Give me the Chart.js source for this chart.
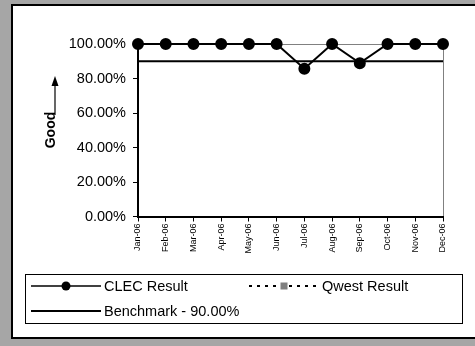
<!DOCTYPE html>
<html>
<head>
<meta charset="utf-8">
<script src="https://cdn.jsdelivr.net/npm/chart.js@4/dist/chart.umd.min.js"></script>
<style>
html,body{margin:0;padding:0;background:#a6a6a6;}
#wrap{position:relative;width:475px;height:346px;}
canvas{display:block;}
</style>
</head>
<body>
<div id="wrap"><canvas id="c" width="475" height="346"></canvas></div>
<script>
const months = ['Jan-06','Feb-06','Mar-06','Apr-06','May-06','Jun-06','Jul-06','Aug-06','Sep-06','Oct-06','Nov-06','Dec-06'];
const clecResult = [1, 1, 1, 1, 1, 1, 0.857, 1, 0.889, 1, 1, 1];
const qwestResult = [null, null, null, null, null, null, null, null, null, null, null, null];
const benchmark = [0.9, 0.9, 0.9, 0.9, 0.9, 0.9, 0.9, 0.9, 0.9, 0.9, 0.9, 0.9];
const yTicks = [0, 0.2, 0.4, 0.6, 0.8, 1.0];
const FONT = '"Liberation Sans", Arial, sans-serif';

const panelPlugin = {
  id: 'panel',
  beforeDraw(chart) {
    const ctx = chart.ctx;
    ctx.save();
    ctx.fillStyle = '#a6a6a6';
    ctx.fillRect(0, 0, 475, 346);
    ctx.fillStyle = '#ffffff';
    ctx.fillRect(11, 4, 470, 335);
    ctx.strokeStyle = '#000000';
    ctx.lineWidth = 2;
    ctx.beginPath();
    ctx.moveTo(480, 5);
    ctx.lineTo(12, 5);
    ctx.lineTo(12, 338);
    ctx.lineTo(480, 338);
    ctx.stroke();
    ctx.restore();
  },
  afterDraw(chart) {
    const ctx = chart.ctx;
    ctx.save();
    // "Good" arrow
    ctx.fillStyle = '#000';
    ctx.strokeStyle = '#000';
    ctx.lineWidth = 1.2;
    ctx.beginPath();
    ctx.moveTo(55, 115);
    ctx.lineTo(55, 84);
    ctx.stroke();
    ctx.beginPath();
    ctx.moveTo(55, 76);
    ctx.lineTo(51.5, 86);
    ctx.lineTo(58.5, 86);
    ctx.closePath();
    ctx.fill();
    ctx.translate(51, 130);
    ctx.rotate(-Math.PI / 2);
    ctx.font = 'bold 14px ' + FONT;
    ctx.textAlign = 'center';
    ctx.textBaseline = 'middle';
    ctx.fillText('Good', 0, 0);
    ctx.restore();

    // Legend
    ctx.save();
    const ds = chart.data.datasets;
    ctx.strokeStyle = '#000';
    ctx.lineWidth = 1;
    ctx.strokeRect(25.5, 274.5, 437, 49);
    ctx.font = '14.5px ' + FONT;
    ctx.textBaseline = 'middle';
    ctx.fillStyle = '#000';
    const entries = [
      {d: ds[0], x: 31, y: 286},
      {d: ds[1], x: 249, y: 286},
      {d: ds[2], x: 31, y: 311}
    ];
    entries.forEach(e => {
      const d = e.d;
      ctx.save();
      ctx.strokeStyle = d.borderColor;
      ctx.lineWidth = d.legendLineWidth || 1.5;
      ctx.setLineDash(d.borderDash || []);
      ctx.beginPath();
      ctx.moveTo(e.x, e.y);
      ctx.lineTo(e.x + 70, e.y);
      ctx.stroke();
      ctx.setLineDash([]);
      const cx = e.x + 35;
      if (d.pointStyle === 'circle' && d.pointRadius > 0) {
        ctx.fillStyle = d.pointBackgroundColor;
        ctx.beginPath();
        ctx.arc(cx, e.y, 4.5, 0, Math.PI * 2);
        ctx.fill();
      } else if (d.pointStyle === 'rect') {
        ctx.fillStyle = '#ffffff';
        ctx.fillRect(cx - 5, e.y - 4, 10, 8);
        ctx.fillStyle = d.pointBackgroundColor;
        ctx.fillRect(cx - 3.5, e.y - 3.5, 7, 7);
      }
      ctx.restore();
      ctx.fillStyle = '#000';
      ctx.fillText(d.label, e.x + 73, e.y + 1);
    });
    ctx.restore();
  }
};

new Chart(document.getElementById('c'), {
  type: 'line',
  data: {
    labels: months,
    datasets: [
      {
        label: 'CLEC Result',
        data: clecResult,
        borderColor: '#000000',
        backgroundColor: '#000000',
        borderWidth: 2,
        pointStyle: 'circle',
        pointRadius: 5,
        pointBackgroundColor: '#000000',
        pointBorderColor: '#000000',
        legendLineWidth: 1.5,
        tension: 0,
        clip: false,
        order: 1
      },
      {
        label: 'Qwest Result',
        data: qwestResult,
        borderColor: '#000000',
        borderWidth: 1.5,
        borderDash: [3, 5],
        pointStyle: 'rect',
        pointRadius: 3.5,
        pointBackgroundColor: '#808080',
        pointBorderColor: '#808080',
        legendLineWidth: 2,
        clip: false,
        order: 2
      },
      {
        label: 'Benchmark - 90.00%',
        data: benchmark,
        borderColor: '#000000',
        borderWidth: 2,
        pointRadius: 0,
        pointStyle: false,
        legendLineWidth: 2,
        clip: false,
        order: 3
      }
    ]
  },
  plugins: [panelPlugin],
  options: {
    responsive: false,
    animation: false,
    devicePixelRatio: 1,
    layout: {padding: {left: 0, right: 32, top: 44, bottom: 0}},
    plugins: {legend: {display: false}, tooltip: {enabled: false}},
    scales: {
      x: {
        type: 'category',
        offset: false,
        afterFit(s) { s.height = 129.5; },
        grid: {
          display: true,
          drawOnChartArea: true,
          color: (c) => c.index === months.length - 1 ? '#808080' : 'rgba(0,0,0,0)',
          lineWidth: 1,
          drawTicks: true,
          tickLength: 5,
          tickColor: '#000000'
        },
        border: {display: true, color: '#000000', width: 2},
        ticks: {
          autoSkip: false,
          maxRotation: 90,
          minRotation: 90,
          color: '#000000',
          padding: 2,
          font: {family: FONT, size: 9}
        }
      },
      y: {
        min: 0,
        max: 1,
        afterFit(s) { s.width = 138; },
        afterBuildTicks(s) { s.ticks = yTicks.map(v => ({value: v})); },
        grid: {
          display: true,
          drawOnChartArea: true,
          color: (c) => c.tick && c.tick.value === 1 ? '#808080' : 'rgba(0,0,0,0)',
          lineWidth: 1,
          drawTicks: true,
          tickLength: 5,
          tickColor: '#000000'
        },
        border: {display: true, color: '#000000', width: 2},
        ticks: {
          color: '#000000',
          padding: 7,
          font: {family: FONT, size: 14.5},
          callback: (v) => (v * 100).toFixed(2) + '%'
        }
      }
    }
  }
});
</script>
</body>
</html>
